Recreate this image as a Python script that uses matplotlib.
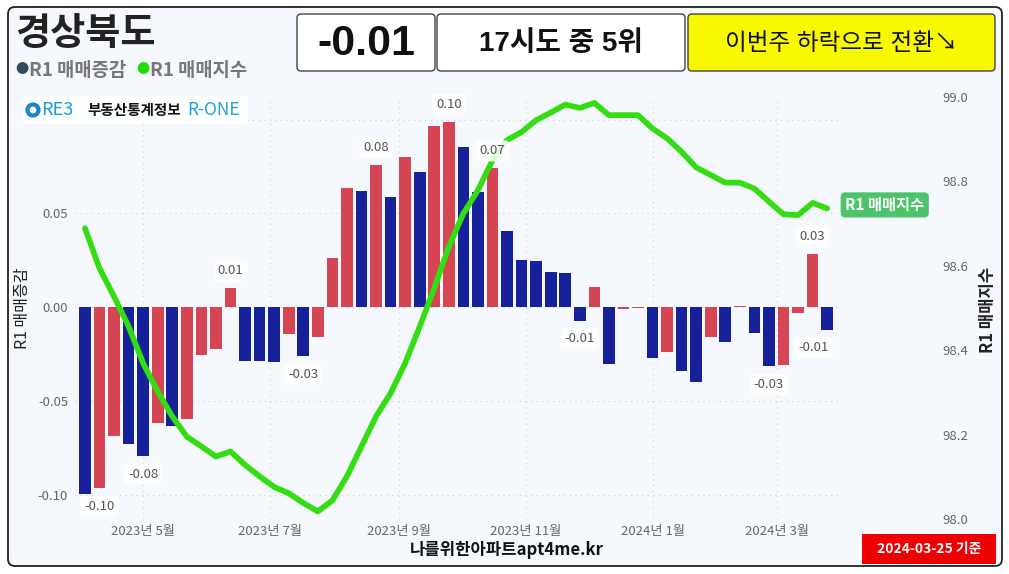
import matplotlib
matplotlib.use("Agg")
import matplotlib.pyplot as plt
import matplotlib.dates as mdates
from matplotlib.patches import FancyBboxPatch, Circle
import pandas as pd

plt.rcParams["font.family"] = ["Noto Sans CJK KR", "DejaVu Sans"]

# 데이터
region = "경상북도"
base_date = "2024-03-25"
dates = pd.date_range(end=base_date, periods=52, freq="7D")
change = [-0.0995, -0.0963, -0.0686, -0.0727, -0.0793, -0.0617, -0.0635, -0.0594, -0.0255, -0.0225,
          0.0101, -0.0285, -0.0285, -0.0293, -0.0144, -0.0260, -0.0161, 0.0260, 0.0633, 0.0619,
          0.0759, 0.0585, 0.0800, 0.0722, 0.0968, 0.0988, 0.0855, 0.0613, 0.0740, 0.0404,
          0.0250, 0.0245, 0.0188, 0.0183, -0.0071, 0.0108, -0.0303, -0.0008, -0.0004, -0.0270,
          -0.0238, -0.0339, -0.0397, -0.0156, -0.0183, 0.0004, -0.0135, -0.0315, -0.0309, -0.0030,
          0.0284, -0.0119]
index = [98.689, 98.594, 98.527, 98.456, 98.369, 98.302, 98.243, 98.195, 98.172, 98.148,
         98.160, 98.128, 98.101, 98.076, 98.061, 98.038, 98.018, 98.044, 98.101, 98.172,
         98.243, 98.298, 98.369, 98.456, 98.547, 98.645, 98.724, 98.779, 98.850, 98.898,
         98.917, 98.945, 98.963, 98.982, 98.974, 98.986, 98.957, 98.957, 98.957, 98.925,
         98.902, 98.870, 98.833, 98.815, 98.797, 98.797, 98.783, 98.752, 98.722, 98.720,
         98.749, 98.736]
label_weeks = [1, 4, 10, 15, 20, 25, 28, 34, 47, 50, 51]
left_ticks = [-0.10, -0.05, 0.00, 0.05, 0.10]
right_ticks = [98.0, 98.2, 98.4, 98.6, 98.8, 99.0]
month_ticks = pd.date_range("2023-05-01", "2024-03-01", freq="2MS")
rank_text = "17시도 중 5위"
trend_text = "이번주 하락으로 전환↘"

RED = "#d64554"
BLUE = "#16219a"
GREEN = "#33dd11"

# 전주 대비 상승이면 빨강, 아니면 파랑
colors = [BLUE] + [RED if change[i] > change[i - 1] else BLUE for i in range(1, len(change))]

W, H = 1009, 574
fig = plt.figure(figsize=(W / 100, H / 100), dpi=100)

# 배경 프레임
bg = fig.add_axes([0, 0, 1, 1])
bg.set_xlim(0, W)
bg.set_ylim(H, 0)
bg.axis("off")
bg.set_zorder(-1)
bg.add_patch(FancyBboxPatch((8, 7), 994, 559, boxstyle="round,pad=0,rounding_size=7",
                            facecolor="#f5f8fc", edgecolor="#222222", lw=1.3))

# 메인 차트
ax = fig.add_axes([75 / W, 1 - 519 / H, (838 - 75) / W, (519 - 97) / H])
ax.set_facecolor("none")
ax.bar(dates, change, width=5.6, color=colors, zorder=2)
x0 = mdates.date2num(dates[0]) - 4.8
ax.set_xlim(x0, x0 + 367)
ax.set_ylim(-0.1128, 0.1120)
ax.set_yticks(left_ticks)
ax.set_yticklabels([f"{t:.2f}" for t in left_ticks[:-1]] + [""])
ax.set_xticks(month_ticks)
ax.set_xticklabels([f"{d.year}년 {d.month}월" for d in month_ticks])
ax.tick_params(length=0, labelsize=9.5, labelcolor="#666666")
ax.tick_params(axis="y", pad=5)
ax.tick_params(axis="x", pad=4)
ax.grid(True, linestyle=(0, (1, 4)), color="#ccd1d8", lw=0.8)
ax.set_axisbelow(True)
for s in ax.spines.values():
    s.set_visible(False)

ax2 = ax.twinx()
ax2.plot(dates, index, color=GREEN, lw=4.1, solid_capstyle="round", solid_joinstyle="round")
ax2.set_ylim(98.0, 99.0)
ax2.set_yticks(right_ticks)
ax2.set_yticklabels([f"{t:.1f}" for t in right_ticks])
ax2.tick_params(length=0, labelsize=9.5, labelcolor="#666666", pad=75)
for s in ax2.spines.values():
    s.set_visible(False)

# 막대 값 라벨
for i in label_weeks:
    v = change[i]
    dy = 12.5 if v > 0 else -13
    dx = -10 if i == len(change) - 1 else 0
    ax2.annotate(f"{v:.2f}", xy=(mdates.date2num(dates[i]), v), xycoords=ax.transData,
                 xytext=(dx, dy), textcoords="offset points", ha="center", va="center",
                 fontsize=9.5, color="#555555",
                 bbox=dict(boxstyle="round,pad=0.3", fc="white", ec="none", alpha=0.85))

ax2.annotate("R1 매매지수", xy=(mdates.date2num(dates[-1]), index[-1]),
             xytext=(13, 2.5), textcoords="offset points", ha="left", va="center",
             fontsize=11, fontweight="bold", color="white", annotation_clip=False,
             bbox=dict(boxstyle="round,pad=0.3,rounding_size=0.3", fc="#4dc46c", ec="none"))

# 상단/하단 장식
fg = fig.add_axes([0, 0, 1, 1])
fg.set_xlim(0, W)
fg.set_ylim(H, 0)
fg.axis("off")
fg.set_zorder(10)
fg.patch.set_alpha(0)

fg.text(15, 33, region, fontsize=27.5, fontweight="bold", color="#222222", ha="left", va="center")
fg.text(15, 70, "●", fontsize=9.5, color="#34495e", ha="left", va="center")
fg.text(29, 70, "R1 매매증감", fontsize=13.5, fontweight="bold", color="#777777", ha="left", va="center")
fg.text(136, 70, "●", fontsize=9.5, color="#22dd00", ha="left", va="center")
fg.text(150, 70, "R1 매매지수", fontsize=13.5, fontweight="bold", color="#777777", ha="left", va="center")

# 로고
fg.add_patch(FancyBboxPatch((22, 96), 226, 28, boxstyle="round,pad=0,rounding_size=3",
                            fc="white", ec="none", alpha=0.9))
fg.add_patch(Circle((33, 110), 5.5, fc="none", ec="#1b86c6", lw=3))
fg.text(41, 110, "RE3", fontsize=13, color="#1b9ad6", ha="left", va="center")
fg.text(87, 110, "부동산통계정보", fontsize=10.5, fontweight="bold", color="#111111", ha="left", va="center")
fg.text(187, 110, "R-ONE", fontsize=12.5, color="#1aa3d9", ha="left", va="center")

# 상단 박스
boxes = [(297, 435, "white", f"{change[-1]:.2f}", 31, "bold"),
         (437, 685, "white", rank_text, 20, "bold"),
         (688, 995, "#f8f800", trend_text, 17, "normal")]
for left, right, fc, txt, size, weight in boxes:
    fg.add_patch(FancyBboxPatch((left, 14), right - left, 57, boxstyle="round,pad=0,rounding_size=4",
                                fc=fc, ec="#444444", lw=1))
    fg.text((left + right) / 2, 44, txt, fontsize=size, fontweight=weight, color="#111111",
            ha="center", va="center", family=["Liberation Sans", "Noto Sans CJK KR", "DejaVu Sans"])

# 축 제목
fg.text(22, 308, "R1 매매증감", fontsize=11.5, color="#222222", rotation=90, ha="center", va="center")
fg.text(988, 310, "R1 매매지수", fontsize=12, fontweight="bold", color="#222222", rotation=90,
        ha="center", va="center")

fg.text(507, 550, "나를위한아파트apt4me.kr", fontsize=12, fontweight="bold", color="#111111",
        ha="center", va="center")
fg.add_patch(FancyBboxPatch((862, 534), 134, 30, boxstyle="square,pad=0", fc="#ee0000", ec="none"))
fg.text(929, 549, f"{base_date} 기준", fontsize=10, fontweight="bold", color="white",
        ha="center", va="center")

fig.savefig("out.png", dpi=100, facecolor="white")
